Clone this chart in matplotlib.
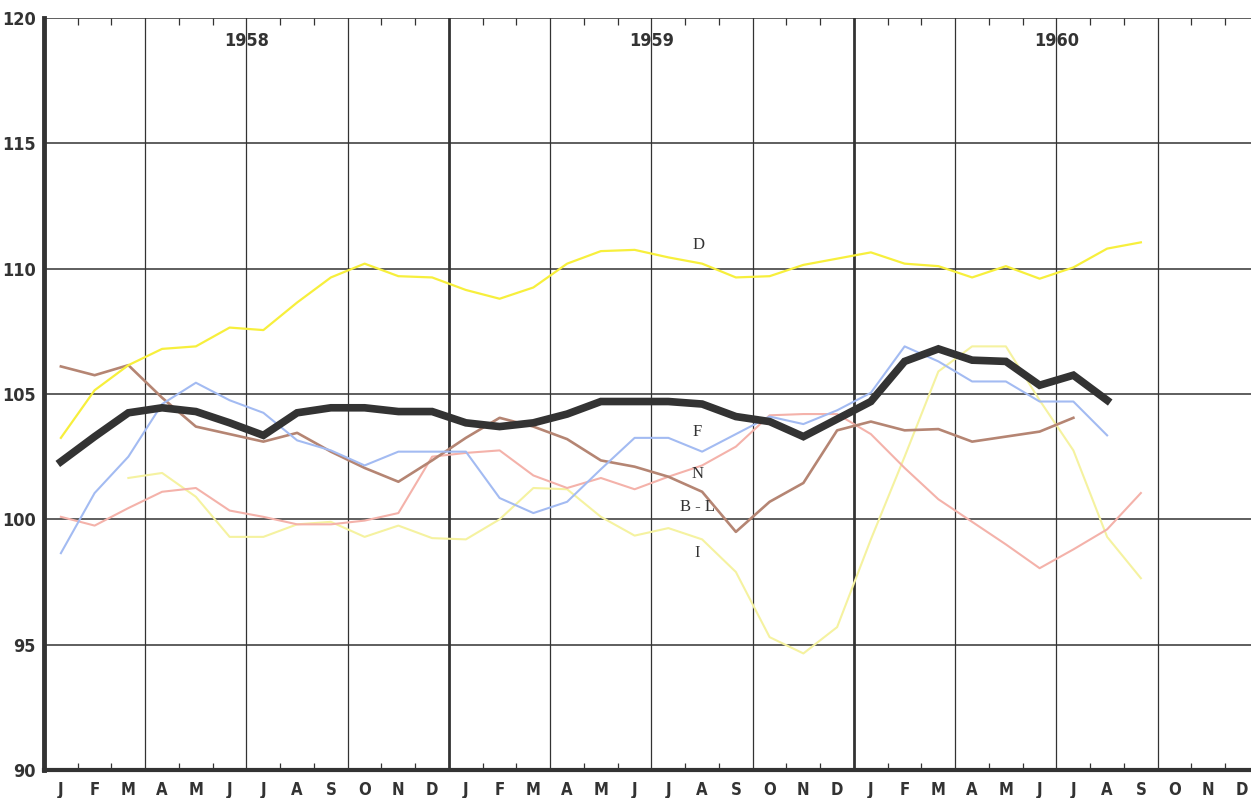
import numpy as np
import matplotlib
matplotlib.use("Agg")
import matplotlib.pyplot as plt
from matplotlib.ticker import FixedLocator

# months J 1958 .. D 1960
month_letters = ["J", "F", "M", "A", "M", "J", "J", "A", "S", "O", "N", "D"] * 3
years = ["1958", "1959", "1960"]

# thick black line (overall)
total = [102.3, 103.3, 104.25, 104.45, 104.3, 103.85, 103.35, 104.25, 104.45, 104.45, 104.3, 104.3,
         103.85, 103.7, 103.85, 104.2, 104.7, 104.7, 104.7, 104.6, 104.1, 103.9, 103.3, 104.0,
         104.7, 106.3, 106.8, 106.35, 106.3, 105.35, 105.75, 104.75]
# D (bright yellow)
d_vals = [103.25, 105.15, 106.15, 106.8, 106.9, 107.65, 107.55, 108.65, 109.65, 110.2, 109.7, 109.65,
          109.15, 108.8, 109.25, 110.2, 110.7, 110.75, 110.45, 110.2, 109.65, 109.7, 110.15, 110.4,
          110.65, 110.2, 110.1, 109.65, 110.1, 109.6, 110.05, 110.8, 111.05]
# F (blue)
f_vals = [98.65, 101.05, 102.5, 104.6, 105.45, 104.75, 104.25, 103.15, 102.75, 102.15, 102.7, 102.7,
          102.7, 100.85, 100.25, 100.7, 102.0, 103.25, 103.25, 102.7, 103.4, 104.1, 103.8, 104.35,
          105.05, 106.9, 106.3, 105.5, 105.5, 104.7, 104.7, 103.35]
# B-L (brown)
bl_vals = [106.1, 105.75, 106.15, 104.85, 103.7, 103.4, 103.1, 103.45, 102.7, 102.05, 101.5, 102.35,
           103.25, 104.05, 103.7, 103.2, 102.35, 102.1, 101.7, 101.1, 99.5, 100.7, 101.45, 103.55,
           103.9, 103.55, 103.6, 103.1, 103.3, 103.5, 104.05]
# N (pink)
n_vals = [100.1, 99.75, 100.45, 101.1, 101.25, 100.35, 100.1, 99.8, 99.8, 99.95, 100.25, 102.5,
          102.65, 102.75, 101.75, 101.25, 101.65, 101.2, 101.7, 102.15, 102.9, 104.15, 104.2, 104.2,
          103.4, 102.05, 100.8, 99.9, 99.0, 98.05, 98.8, 99.6, 101.05]
# I (pale yellow), starts in March 1958
i_vals = [101.65, 101.85, 100.9, 99.3, 99.3, 99.8, 99.9, 99.3, 99.75, 99.25,
          99.2, 100.0, 101.25, 101.2, 100.1, 99.35, 99.65, 99.2, 97.9, 95.3, 94.65, 95.7,
          99.2, 102.5, 105.9, 106.9, 106.9, 104.75, 102.75, 99.3, 97.65]
i_start = 2

labels = [("D", 19.4, 110.95), ("F", 19.35, 103.5), ("N", 19.35, 101.8),
          ("B - L", 19.35, 100.5), ("I", 19.35, 98.65)]

fig = plt.figure(figsize=(12.51, 7.98), dpi=100)
ax = fig.add_axes([44 / 1251, 28 / 798, 1215 / 1251, 752 / 798])

def xs(vals, start=0):
    return np.arange(start, start + len(vals)) + 0.5

ax.plot(xs(i_vals, i_start), i_vals, color="#f5f2a0", lw=1.5, zorder=3)
ax.plot(xs(n_vals), n_vals, color="#f4b2aa", lw=1.5, zorder=3)
ax.plot(xs(bl_vals), bl_vals, color="#b58573", lw=1.9, zorder=4)
ax.plot(xs(f_vals), f_vals, color="#a3bbf2", lw=1.5, zorder=4)
ax.plot(xs(d_vals), d_vals, color="#f7ef3c", lw=1.6, zorder=4)
ax.plot(xs(total), total, color="#333333", lw=5.5, zorder=5, solid_joinstyle="miter")

ax.set_xlim(0, 36)
ax.set_ylim(90, 120)

# grid
for y in range(95, 121, 5):
    ax.axhline(y, color="#333333", lw=1.1, zorder=1)
for q in range(3, 36, 3):
    ax.axvline(q, color="#333333", lw=2.0 if q % 12 == 0 else 0.9, zorder=1)

for s in ["top", "right"]:
    ax.spines[s].set_visible(False)
ax.spines["left"].set_linewidth(3.5)
ax.spines["bottom"].set_linewidth(3)
ax.spines["left"].set_color("#333333")
ax.spines["bottom"].set_color("#333333")

font = ["DejaVu Sans"]
ax.set_yticks(range(90, 121, 5))
ax.set_yticklabels([str(v) for v in range(90, 121, 5)], family=font, fontweight="bold",
                   fontstretch="condensed", fontsize=13, color="#333333")
ax.set_xticks(np.arange(36) + 0.5)
ax.set_xticklabels(month_letters, family=font, fontweight="bold", fontstretch="condensed",
                   fontsize=12, color="#333333")
ax.tick_params(axis="x", which="major", length=0, pad=8)
ax.tick_params(axis="y", which="major", length=0, pad=6)
ax.xaxis.set_minor_locator(FixedLocator([m for m in range(1, 36) if m % 3 != 0]))
ax.tick_params(axis="x", which="minor", direction="in", length=5, width=0.9,
               top=True, bottom=True, color="#333333")

for i, yr in enumerate(years):
    ax.text(6 + 12 * i, 119.1, yr, ha="center", va="center", family=font,
            fontweight="bold", fontstretch="condensed", fontsize=13, color="#333333")

for txt, x, y in labels:
    ax.text(x, y, txt, ha="center", va="center", family="Liberation Serif",
            fontsize=12, color="#333333", zorder=6)

fig.savefig("out.png", dpi=100)
